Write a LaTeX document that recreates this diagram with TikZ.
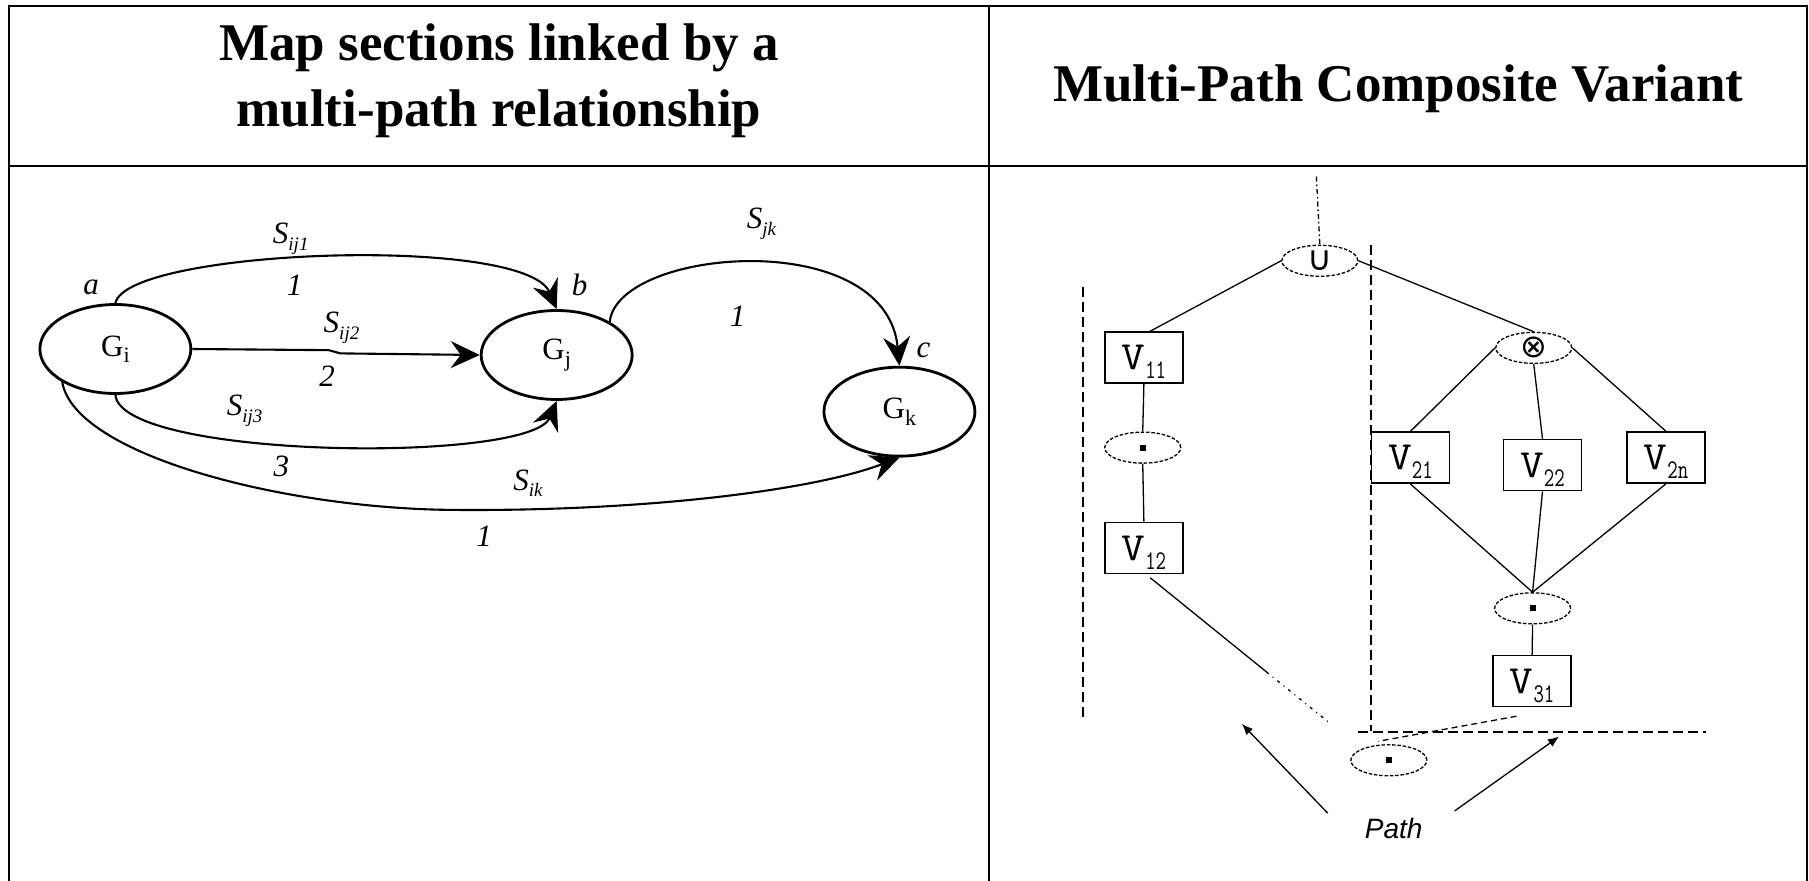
\documentclass[tikz,border=0pt]{standalone}
\usepackage{fontspec}
\setmainfont{Liberation Serif}
\newfontfamily\pathfont{Liberation Sans}
\newfontfamily\opfont{DejaVu Sans}
\usetikzlibrary{shapes.geometric,arrows.meta,calc}

\newcommand{\fsz}[2]{\fontsize{#1}{#2}\selectfont}
% graph node label: roman G with a lowered index
\newcommand{\Glab}[1]{G\raisebox{-6.5pt}{\fsz{22}{22}#1}}
% link label: italic S with a lowered index
\newcommand{\Slab}[1]{S\raisebox{-6.5pt}{\fsz{19}{19}#1}}
% variant box label, in a slab-serif typewriter face
\newcommand{\Vlab}[1]{{\ttfamily\fsz{40}{40}\scalebox{1.15}[1]{V}\smash{\raisebox{-9pt}{\scalebox{0.75}[1]{\fsz{27}{27}#1}}}}}

\tikzset{
  frame/.style={line width=2.6pt, line join=miter},
  hdr/.style={font=\fsz{53}{66}\bfseries, align=center, inner sep=0pt},
  gnode/.style={ellipse, draw, line width=2.8pt, minimum width=151pt,
    minimum height=89pt, inner sep=0pt, font=\fsz{31}{31}},
  glink/.style={line width=2.1pt, -{Stealth[length=29pt,width=27pt,inset=10pt]}},
  lab/.style={inner sep=0pt, font=\fsz{31}{31}\itshape},
  vbox/.style={draw, line width=1.6pt, minimum width=78pt, minimum height=51pt,
    inner sep=0pt},
  opnode/.style={ellipse, draw, line width=1.3pt, dash pattern=on 3.5pt off 1.8pt,
    minimum width=76pt, minimum height=31pt, inner sep=0pt},
  tline/.style={line width=1.3pt},
  sepline/.style={line width=1.8pt, dash pattern=on 10pt off 5pt},
  pathlab/.style={font=\pathfont\itshape\fsz{28}{28}, minimum width=131.5pt,
    minimum height=34.6pt, inner sep=0pt},
  smallarrow/.style={tline, -{Latex[length=11pt,width=9pt]}}
}

\begin{document}
\begin{tikzpicture}[x=1.1537pt, y=-1.1537pt]
\useasboundingbox (0,0) rectangle (1568,763.6);

% table frame
\draw[frame] (7.8,763.6) -- (7.8,5.2) -- (1566.3,5.2) -- (1566.3,763.6);
\draw[frame] (7.8,143.9) -- (1566.3,143.9);
\draw[frame] (857.2,5.2) -- (857.2,763.6);

% column headings
\node[hdr] (h1) at (432.5,70) {Map sections linked by a\\multi-path relationship};
\node[hdr] (h2) at (1212,77) {Multi-Path Composite Variant};

% ---- left: map sections ----
\node[gnode] (Gi) at (100,302.5) {\Glab{i}};
\node[gnode] (Gj) at (482.5,307.7) {\Glab{j}};
\node[gnode] (Gk) at (779.6,356.8) {\Glab{k}};

\draw[glink] (Gi.north) .. controls (110,216) and (455,203) .. (Gj.north);
\draw[glink] (Gi.east) -- (285,303.5) -- (295,306.3) -- (Gj.west);
\draw[glink] (Gi.south) .. controls (105,398) and (460,402) .. (Gj.south);
\draw[glink] (Gi.212) .. controls (65,395) and (250,442) .. (398,442)
  .. controls (560,443) and (705,425) .. (Gk.south);
\draw[glink] (Gj.32) .. controls (535,215) and (768,195) .. (Gk.north);

\node[lab] (la) at (79,249) {a};
\node[lab] (lb) at (502.5,247) {b};
\node[lab] (lc) at (800.5,303.4) {c};
\node[lab] (s1) at (252,207) {\Slab{ij1}};
\node[lab] (n1) at (255.4,247) {1};
\node[lab] (s2) at (296,284) {\Slab{ij2}};
\node[lab] (n2) at (283.6,326.5) {2};
\node[lab] (s3) at (212,356) {\Slab{ij3}};
\node[lab] (n3) at (243.8,404.5) {3};
\node[lab] (s4) at (457.7,419) {\Slab{ik}};
\node[lab] (n4) at (419.6,465.2) {1};
\node[lab] (s5) at (660,194) {\Slab{jk}};
\node[lab] (n5) at (639.3,274.5) {1};

% ---- right: composite variant ----
\draw[sepline] (939,248.5) -- (939,624);
\draw[sepline] (1188.3,212.4) -- (1188.3,634);
\draw[sepline] (1177,634.2) -- (1479,634.2);

\node[opnode] (U) at (1144,226) {\raisebox{-8pt}{\opfont\fsz{34}{34}∪}};
\node[opnode] (X) at (1329.4,301.5) {\raisebox{-3pt}{\opfont\fsz{32}{32}⊗}};
\node[opnode] (D1) at (990.5,388) {\rule{6pt}{6pt}};
\node[opnode] (D2) at (1328.4,527.3) {\rule{6pt}{6pt}};
\node[opnode] (D3) at (1203.8,659) {\rule{6pt}{6pt}};

\node[vbox] (V11) at (991.5,310) {\Vlab{11}};
\node[vbox] (V12) at (991.5,475) {\Vlab{12}};
\node[vbox] (V21) at (1222.5,396.7) {\Vlab{21}};
\node[vbox] (V22) at (1337,403.2) {\Vlab{22}};
\node[vbox] (V2n) at (1444,396.6) {\Vlab{2n}};
\node[vbox] (V31) at (1328,590.3) {\Vlab{31}};

\coordinate (top) at (1141,153);
\draw[tline, dash pattern=on 5pt off 3pt on 1.5pt off 3pt] (top) -- (U.north);

\draw[tline] (U.west) -- (V11.77);
\draw[tline] (U.east) -- (X.north);
\draw[tline] (V11.south) -- (D1.north);
\draw[tline] (D1.south) -- (V12.north);
\draw[tline] (X.west) -- (V21.north);
\draw[tline] (X.south) -- (V22.north);
\draw[tline] (X.east) -- (V2n.north);
\draw[tline] (V21.south) -- (D2.north);
\draw[tline] (V22.south) -- (D2.north);
\draw[tline] (V2n.south) -- (D2.north);
\draw[tline] (D2.south) -- (V31.north);

% path links into the bottom sequence node
\coordinate (vA) at ($(V12.south)+(5.5,3)$);
\coordinate (vB) at ($(vA)!0.55!(D3.north west)$);
\coordinate (vC) at ($(vA)!0.85!(D3.north west)$);
\draw[tline] (vA) -- (vB);
\draw[tline, dash pattern=on 3pt off 5pt on 1pt off 5pt] (vB) -- (vC);
\draw[tline, dash pattern=on 6pt off 4pt] ($(V31.south)+(-13.5,7.7)$) -- ($(D3.north)+(-9,-2.5)$);

\node[pathlab] (P) at (1208,718) {Path};
\coordinate (tipL) at (1076.5,627.5);
\coordinate (tipR) at (1351.3,638.5);
\draw[smallarrow] (P.167) -- (tipL);
\draw[smallarrow] (P.16) -- (tipR);
\end{tikzpicture}
\end{document}
